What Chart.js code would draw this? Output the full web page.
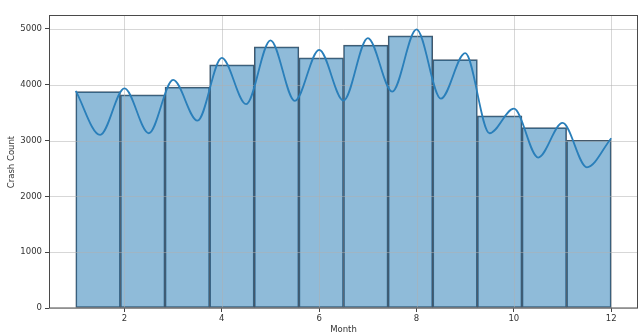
<!DOCTYPE html>
<html>
<head>
<meta charset="utf-8">
<script src="https://cdn.jsdelivr.net/npm/chart.js@4/dist/chart.umd.min.js"></script>
<style>
  html, body { margin: 0; padding: 0; background: #ffffff; }
  #wrap { width: 639px; height: 334px; position: relative; }
</style>
</head>
<body>
<div id="wrap"><canvas id="chart" width="639" height="334"></canvas></div>
<script>
// Crashes per month (histogram, 12 bins from month 1 to 12)
const months = [1, 2, 3, 4, 5, 6, 7, 8, 9, 10, 11, 12];
const crashCounts = [3876, 3817, 3955, 4355, 4677, 4480, 4708, 4875, 4450, 3441, 3231, 3005];

// Density curve, scaled to counts (peaks near whole months, dips between)
const kdeMonth = [1, 1.5, 2, 2.5, 3, 3.5, 4, 4.5, 5, 5.5, 6, 6.5, 7, 7.5, 8, 8.5, 9, 9.5, 10, 10.5, 11, 11.5, 12];
const kdeCount = [3890, 3100, 3935, 3130, 4085, 3355, 4480, 3650, 4795, 3710, 4625, 3715, 4835, 3875, 4990, 3750, 4565, 3130, 3570, 2695, 3315, 2520, 3040];

// Axis ticks
const xTicks = [2, 4, 6, 8, 10, 12];
const yTicks = [0, 1000, 2000, 3000, 4000, 5000];

// Bin centres: equal-width bins spanning the month range
const lo = Math.min(...months), hi = Math.max(...months);
const binW = (hi - lo) / months.length;
const barPoints = crashCounts.map((c, i) => ({ x: lo + (i + 0.5) * binW, y: c }));
const kdePoints = kdeMonth.map((m, i) => ({ x: m, y: kdeCount[i] }));

const FONT = { family: 'DejaVu Sans', size: 8.5 };
const TEXT = '#333333';

// Light grid drawn over the translucent bars, under the curve
const gridOverBars = {
  id: 'gridOverBars',
  afterDatasetDraw(chart, args) {
    if (args.index !== 0) return;
    const { ctx, chartArea: ca, scales: { x, y } } = chart;
    ctx.save();
    ctx.strokeStyle = 'rgba(176,176,176,0.5)';
    ctx.lineWidth = 1;
    ctx.beginPath();
    xTicks.forEach(v => {
      const px = Math.round(x.getPixelForValue(v)) + 0.5;
      ctx.moveTo(px, ca.top); ctx.lineTo(px, ca.bottom);
    });
    yTicks.forEach(v => {
      const py = Math.round(y.getPixelForValue(v)) + 0.5;
      ctx.moveTo(ca.left, py); ctx.lineTo(ca.right, py);
    });
    ctx.stroke();
    ctx.restore();
  }
};

// Box frame around the plotting area
const frame = {
  id: 'frame',
  afterDraw(chart) {
    const { ctx, chartArea: ca } = chart;
    ctx.save();
    ctx.strokeStyle = '#4a4a4a';
    ctx.lineWidth = 1;
    ctx.strokeRect(Math.round(ca.left) + 0.5, Math.round(ca.top) - 0.5,
                   Math.round(ca.right - ca.left) - 1, Math.round(ca.bottom - ca.top) + 0.5);
    ctx.restore();
  }
};

new Chart(document.getElementById('chart'), {
  type: 'bar',
  data: {
    datasets: [
      {
        type: 'bar',
        data: barPoints,
        backgroundColor: 'rgba(31,119,180,0.5)',
        borderColor: '#44586a',
        borderWidth: 1,
        borderSkipped: false,
        barPercentage: 1,
        categoryPercentage: 1,
        grouped: false,
        order: 1
      },
      {
        type: 'line',
        data: kdePoints,
        borderColor: '#2a7fba',
        borderWidth: 1.8,
        pointRadius: 0,
        fill: false,
        cubicInterpolationMode: 'monotone',
        order: 0
      }
    ]
  },
  options: {
    responsive: false,
    animation: false,
    events: [],
    layout: { padding: { top: 16, right: 1, left: 0, bottom: 0 } },
    plugins: { legend: { display: false }, tooltip: { enabled: false } },
    scales: {
      x: {
        type: 'linear',
        offset: false,
        min: 0.45,
        max: 12.55,
        afterBuildTicks: s => { s.ticks = xTicks.map(v => ({ value: v })); },
        afterFit: s => { s.height = 26; },
        border: { display: false },
        grid: { drawOnChartArea: false, drawTicks: true, tickLength: 4, tickColor: '#444', offset: false },
        ticks: { font: FONT, color: TEXT, padding: 2, maxRotation: 0, callback: v => String(v) },
        title: { display: true, text: 'Month', font: { ...FONT, lineHeight: 1 }, color: TEXT, padding: { top: 0, bottom: 0 } }
      },
      y: {
        min: 0,
        max: 5230,
        afterBuildTicks: s => { s.ticks = yTicks.map(v => ({ value: v })); },
        afterFit: s => { s.width = 49; },
        border: { display: false },
        grid: { drawOnChartArea: false, drawTicks: true, tickLength: 4, tickColor: '#444' },
        ticks: { font: FONT, color: TEXT, padding: 3, callback: v => String(v) },
        title: { display: true, text: 'Crash Count', font: { ...FONT, lineHeight: 1 }, color: TEXT, padding: { top: 7.5, bottom: 0 } }
      }
    }
  },
  plugins: [gridOverBars, frame]
});
</script>
</body>
</html>
